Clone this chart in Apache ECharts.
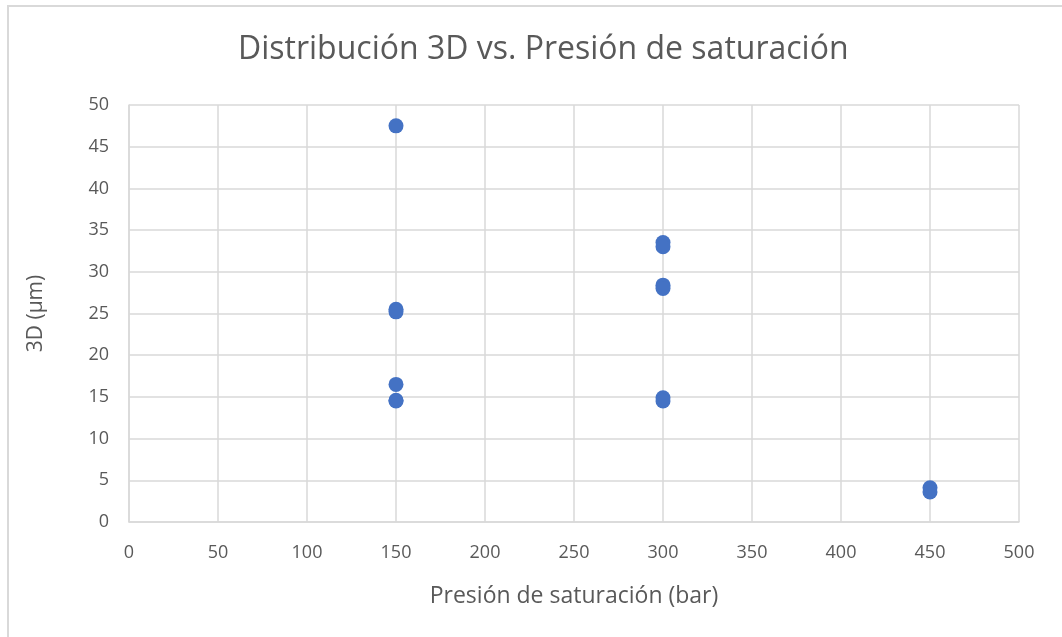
<!DOCTYPE html>
<html><head><meta charset="utf-8">
<script src="https://cdn.jsdelivr.net/npm/echarts@6/dist/echarts.min.js"></script>
<style>html,body{margin:0;padding:0;background:#fff;}#c{width:1062px;height:637px;}</style>
</head><body><div id="c"></div>
<script>
const pressure = [150,150,150,150,150,150, 300,300,300,300,300,300, 450,450];
const diameter3D = [47.5,25.5,25.2,16.5,14.6,14.5, 33.5,33.0,28.4,28.0,14.9,14.5, 4.1,3.6];
const title = 'Distribución 3D vs. Presión de saturación';
const xName = 'Presión de saturación (bar)';
const yName = '3D (µm)';
const points = pressure.map((p,i)=>[p, diameter3D[i]]);
const F = 'Open Sans';
const chart = echarts.init(document.getElementById('c'));
chart.setOption({
  animation:false,
  backgroundColor:'#fff',
  graphic:[{type:'rect', shape:{x:8,y:6,width:1100,height:700}, style:{fill:'none', stroke:'#d9d9d9', lineWidth:2}}],
  title:{text:title, left:233, top:29, textStyle:{fontFamily:F, fontSize:32, fontWeight:'normal', color:'#595959'}},
  grid:{left:129, right:43, top:105, bottom:115},
  xAxis:{type:'value', min:0, max:500, interval:50, name:xName, nameLocation:'middle', nameGap:63,
    nameTextStyle:{fontFamily:F, fontSize:23, color:'#595959'},
    axisLine:{show:true, lineStyle:{color:'#d9d9d9', width:1.5}}, axisTick:{show:false},
    axisLabel:{fontFamily:F, fontSize:18, color:'#595959', margin:22},
    splitLine:{show:true, lineStyle:{color:'#d9d9d9', width:1.5}}},
  yAxis:{type:'value', min:0, max:50, interval:5, name:yName, nameLocation:'middle', nameGap:82, nameRotate:90,
    nameTextStyle:{fontFamily:F, fontSize:21, color:'#595959'},
    axisLine:{show:true, lineStyle:{color:'#d9d9d9', width:1.5}}, axisTick:{show:false},
    axisLabel:{fontFamily:F, fontSize:18, color:'#595959', margin:20},
    splitLine:{show:true, lineStyle:{color:'#d9d9d9', width:1.5}}},
  series:[{type:'scatter', data:points, symbol:'circle', symbolSize:15, itemStyle:{color:'#4472C4', opacity:1}}]
});
</script></body></html>
